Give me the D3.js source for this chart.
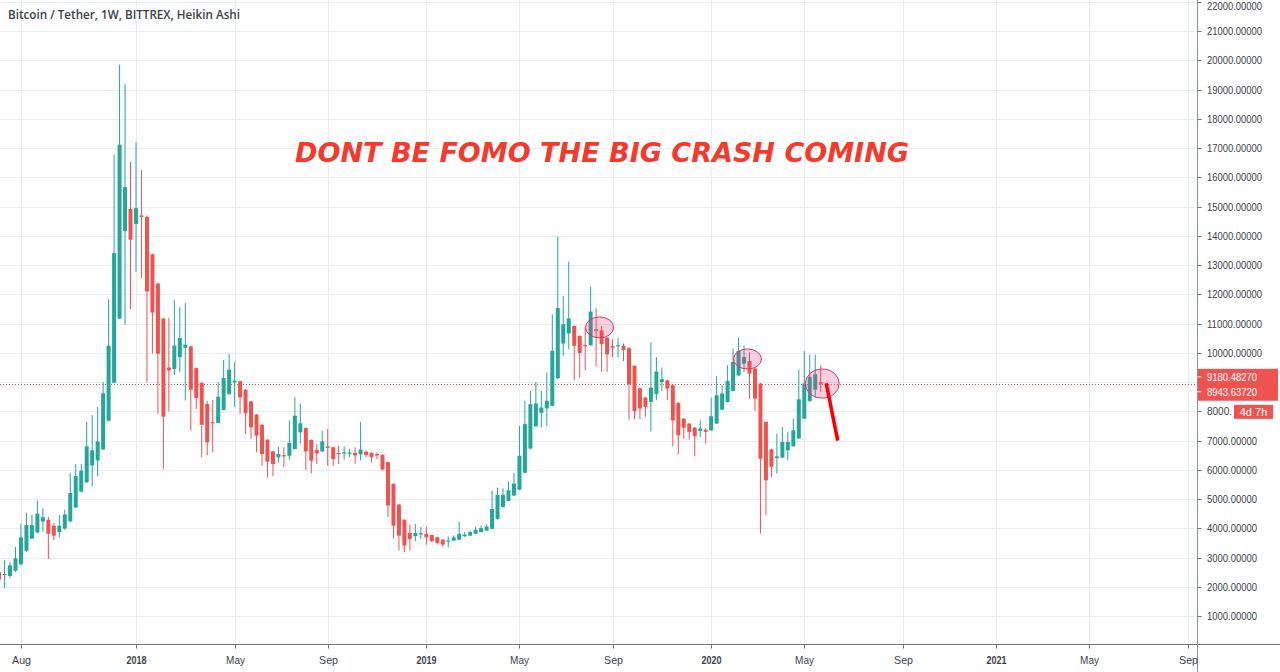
<!DOCTYPE html>
<html><head><meta charset="utf-8">
<script src="https://cdn.jsdelivr.net/npm/d3@7"></script>
<style>
html,body{margin:0;padding:0;background:#fff;}
svg{display:block;}
</style></head>
<body>
<svg id="c" width="1280" height="672"></svg>
<script>
// ---- Data: weekly Heikin Ashi candles, first week Jul 10 2017, last week May 25 2020 ----
const firstWeek = "2017-07-10";
const lastWeek  = "2020-05-25";
const haOpen = [
 2500,2400,2370,2550,2770,3230,3650,3860,4230,4290,4090,3870,3990,4240,4710,5250,5570,6150,6320,6700,7680,8980,11170,14170,14920,
 14410,14700,14650,13370,12370,11170,9500,9450,9850,10170,10220,9480,8970,8250,7630,7600,8050,8590,8990,9030,8740,8340,7890,7540,7030,6630,6430,6500,6480,6710,7280,7430,7020,6680,6630,6800,6770,6580,6555,6560,6580,6530,6620,6580,6540,6510,6260,5520,4810,4290,3840,3730,3790,
 3810,3770,3690,3610,3550,3580,3610,3730,3750,3810,3870,3920,3980,4320,4730,4935,5120,5320,5900,6730,7490,7950,8100,8190,9130,10320,10660,10920,10580,10270,10260,10810,10770,10520,10230,10220,10240,10160,9550,8790,8470,8320,8590,9000,9060,8890,8290,7750,7580,7440,7330,7370,
 7350,7580,8060,8320,8700,9230,9630,9720,9460,8950,7640,6700,6400,6420,6670,6805,7070,7750,8350,8740,9000];
const haHigh = [
 2600,2900,2850,3360,4170,4530,4470,4950,4690,4390,4170,4450,4640,5900,6200,6200,7640,7870,8150,9000,11830,16780,19860,19200,16530,
 17200,16250,14700,13390,12400,11200,11200,11800,11560,11700,10250,9500,9000,8365,8390,8990,9756,9960,9680,9050,8760,8360,7900,7560,7050,6650,6790,6770,7680,8480,8270,7450,7040,6880,7340,7400,6790,6830,6795,6715,6770,7630,6660,6600,6600,6530,6280,5540,4830,4310,4130,4150,4040,
 4060,3790,3710,3630,3720,3760,4240,3870,3920,4060,4090,4130,5290,5390,5370,5600,5900,7500,8360,8700,9000,8700,9330,11320,13970,11950,13120,10940,10600,10890,12270,11530,10920,10540,10470,10520,10320,10200,9570,8810,8490,10350,9860,9500,9080,8910,8310,7770,7600,7460,7690,7420,
 8470,9200,8890,9575,10145,10520,10260,10020,9480,8970,7660,6720,7238,7466,7295,7751,9427,10065,9940,9940,9575];
const haLow = [
 2100,1950,2300,2500,2730,3200,3620,3840,3880,2950,3590,3680,3950,4200,4690,5230,5550,5440,5780,6680,7660,8960,11150,10960,11500,
 12770,12560,9000,9970,7910,6030,8000,9250,9330,8370,7340,8080,6430,6490,6600,7590,8030,8570,8140,7910,7225,7050,6600,6140,5740,5780,6250,6090,6340,6690,6900,5990,5880,6200,6600,6140,6140,6200,6340,6430,6200,6320,6430,6260,6370,5970,4380,3640,3240,3180,3240,3560,3640,
 3440,3520,3440,3375,3350,3560,3600,3700,3730,3800,3860,3910,3970,4300,4710,4920,5100,5300,5880,6700,7460,7440,7500,8170,9100,9900,10120,9060,9150,9400,10240,9530,9350,9350,9840,9840,9720,7710,7730,7730,7810,7310,8380,8700,8380,6800,6530,7070,7030,6460,7120,6900,
 7330,7560,8040,8300,8680,9210,9350,8435,8013,3818,4445,5756,5870,6400,6326,6790,7050,7730,8330,8470,8663];
const haClose = [
 2250,2440,2730,2970,3690,4110,4110,4500,4380,3810,3750,4090,4470,5210,5790,5970,6800,6670,6970,8620,10240,13410,17120,15670,13870,
 14950,14650,12100,11380,9970,7820,9400,10250,10510,10280,8740,8460,7540,6940,7590,8500,9140,9425,9050,8480,7930,7450,7170,6540,6280,6200,6540,6480,6920,7850,7590,6630,6310,6560,6970,6750,6370,6540,6600,6590,6490,6690,6510,6430,6490,6010,4780,4090,3750,3410,3640,3840,3830,
 3690,3560,3500,3440,3580,3690,3810,3790,3870,3950,4010,4060,4660,5140,5140,5300,5530,6480,7560,8240,8270,8130,8360,10070,11530,10980,11180,10240,9990,10230,11410,10750,10300,9950,10180,10260,10100,8930,8010,8100,8150,8810,9360,9100,8780,7690,7180,7440,7300,7150,7410,7300,
 7830,8550,8610,9040,9690,10065,9860,9290,8435,6380,5640,6100,6460,6950,6950,7352,8410,8950,9180,9270,8943.6372];

// axis tick labels
const priceTicks = [1000,2000,3000,4000,5000,6000,7000,8000,10000,11000,12000,13000,14000,15000,16000,17000,18000,19000,20000,21000,22000];
const timeTickDates  = ["2017-08-07","2018-01-01","2018-05-07","2018-09-03","2019-01-07","2019-05-06","2019-09-02","2020-01-06","2020-05-04","2020-09-07","2021-01-04","2021-05-03","2021-09-06"];
const timeTickLabels = ["Aug","2018","May","Sep","2019","May","Sep","2020","May","Sep","2021","May","Sep"];
const lastPrice = 9180.48270, lastHaClose = 8943.63720;
const countdownText = "4d 7h";
const titleText = "Bitcoin / Tether, 1W, BITTREX, Heikin Ashi";
const noteText = "DONT BE FOMO THE BIG CRASH COMING";
// annotation circles (week, price)
const markWeeks  = ["2019-08-19","2020-02-24","2020-05-25"];
const markPrices = [10870,9790,8950];
const arrowWeek = "2020-05-25", arrowFromPrice = 8960, arrowToPrice = 7000;

const parse = d3.utcParse("%Y-%m-%d");
const weeks = d3.utcMonday.range(parse(firstWeek), d3.utcDay.offset(parse(lastWeek),1));
const candles = weeks.map((d,i)=>({date:d,o:haOpen[i],h:haHigh[i],l:haLow[i],c:haClose[i]})).filter(d=>d.o!=null);

const W=1280,H=672, axisX=1197.5, axisY=644.5;
const x = d3.scaleUtc().domain([parse("2018-01-01"), parse("2021-01-04")]).range([136, 996]);
const y = d3.scaleLinear().domain([1000,22000]).range([616,2]);

const svg = d3.select("#c");
const up="#26a69a", dn="#ef5350", grid="#e6edf3";

// grid
const g = svg.append("g");
const allPriceGrid = d3.range(1000,22001,1000);
g.selectAll("line.h").data(allPriceGrid).join("line")
 .attr("x1",0).attr("x2",axisX).attr("y1",d=>Math.round(y(d))+0.5).attr("y2",d=>Math.round(y(d))+0.5)
 .attr("stroke",grid).attr("stroke-width",1);
g.selectAll("line.v").data(timeTickDates).join("line")
 .attr("x1",d=>Math.round(x(parse(d)))+0.5).attr("x2",d=>Math.round(x(parse(d)))+0.5).attr("y1",0).attr("y2",axisY)
 .attr("stroke",grid).attr("stroke-width",1);

// last price dotted line
svg.append("line").attr("x1",0).attr("x2",axisX).attr("y1",Math.round(y(lastHaClose))+0.5).attr("y2",Math.round(y(lastHaClose))+0.5)
 .attr("stroke",dn).attr("stroke-dasharray","1,2").attr("stroke-width",1);

// candles
const cg = svg.append("g");
const cs = cg.selectAll("g").data(candles).join("g");
cs.append("line")
 .attr("x1",d=>x(d.date)).attr("x2",d=>x(d.date))
 .attr("y1",d=>y(d.h)).attr("y2",d=>y(d.l))
 .attr("stroke",d=>d.c>=d.o?up:dn).attr("stroke-width",1);
cs.append("rect")
 .attr("x",d=>x(d.date)-2).attr("width",4)
 .attr("y",d=>y(Math.max(d.o,d.c)))
 .attr("height",d=>Math.max(1.2,Math.abs(y(d.o)-y(d.c))))
 .attr("fill",d=>d.c>=d.o?up:dn);

// annotation ellipses
const ellR = [[14,10.5,-2],[14,10,-2],[17,14.5,1.5]];
svg.selectAll("ellipse").data(markWeeks).join("ellipse")
 .attr("cx",(d,i)=>x(parse(d))+ellR[i][2]).attr("cy",(d,i)=>y(markPrices[i]))
 .attr("rx",(d,i)=>ellR[i][0]).attr("ry",(d,i)=>ellR[i][1])
 .attr("fill","rgba(236,64,122,0.25)").attr("stroke","#e0306a").attr("stroke-width",1);

// red arrow line
svg.append("line")
 .attr("x1",x(parse(arrowWeek))+5.5).attr("y1",y(arrowFromPrice))
 .attr("x2",x(parse(arrowWeek))+17).attr("y2",y(arrowToPrice))
 .attr("stroke","#ff0000").attr("stroke-width",3.6);

// big note text
svg.append("text").attr("x",602).attr("y",162).attr("text-anchor","middle")
 .attr("font-family","DejaVu Sans").attr("font-weight","bold").attr("font-style","italic")
 .attr("font-size",26.5).attr("fill","#f23b2d")
 .attr("textLength",614).attr("lengthAdjust","spacingAndGlyphs")
 .text(noteText);

// title
svg.append("text").attr("x",8).attr("y",18.5)
 .attr("font-family","Open Sans").attr("font-weight",600).attr("font-size",12.5).attr("fill","#3b3f47")
 .attr("textLength",232).attr("lengthAdjust","spacingAndGlyphs")
 .text(titleText);

// axes lines
svg.append("line").attr("x1",0).attr("x2",W).attr("y1",axisY).attr("y2",axisY).attr("stroke","#6f7379").attr("stroke-width",1);
svg.append("line").attr("x1",axisX).attr("x2",axisX).attr("y1",0).attr("y2",H).attr("stroke","#8a8e94").attr("stroke-width",1);

// bottom axis ticks + labels
const bt = svg.append("g");
timeTickDates.forEach((d,i)=>{
  const xx = Math.round(x(parse(d)))+0.5;
  bt.append("line").attr("x1",xx).attr("x2",xx).attr("y1",axisY).attr("y2",axisY+4).attr("stroke","#6f7379");
  const isYear = /^\d{4}$/.test(timeTickLabels[i]);
  bt.append("text").attr("x",xx).attr("y",664).attr("text-anchor","middle")
    .attr("font-family","Liberation Sans").attr("font-size",11).attr("fill","#3b3f47")
    .attr("font-weight",isYear?"bold":"normal")
    .attr("textLength",isYear?20:(timeTickLabels[i].length*6.3)).attr("lengthAdjust","spacingAndGlyphs")
    .text(timeTickLabels[i]);
});

// right axis ticks + labels (the 8000 label is partly hidden behind the countdown badge)
const fmt = d3.format(".5f");
const rt = svg.append("g");
priceTicks.forEach(v=>{
  const yy = Math.round(y(v))+0.5;
  rt.append("line").attr("x1",axisX).attr("x2",axisX+4).attr("y1",yy).attr("y2",yy).attr("stroke","#6f7379");
  const s = v===8000 ? fmt(v).slice(0,5) : fmt(v);
  rt.append("text").attr("x",1207).attr("y",v===22000?yy+3.5:yy).attr("dy","0.35em")
    .attr("font-family","Liberation Sans").attr("font-size",v===22000?10.5:11).attr("fill","#3b3f47")
    .attr("textLength",s.length*5).attr("lengthAdjust","spacingAndGlyphs")
    .text(s);
});

// last price labels
const lp = svg.append("g");
lp.append("rect").attr("x",axisX+0.5).attr("y",y(lastPrice)-8).attr("width",80).attr("height",(y(lastHaClose)+9)-(y(lastPrice)-8)+8).attr("fill",dn);
[[lastPrice,y(lastPrice)],[lastHaClose,y(lastHaClose)+8]].forEach(([v,yy])=>{
  lp.append("line").attr("x1",axisX).attr("x2",axisX+4).attr("y1",yy).attr("y2",yy).attr("stroke","#fff");
  const s=fmt(v);
  lp.append("text").attr("x",1207).attr("y",yy).attr("dy","0.35em")
    .attr("font-family","Liberation Sans").attr("font-size",11).attr("fill","#fff")
    .attr("textLength",s.length*5).attr("lengthAdjust","spacingAndGlyphs").text(s);
});
lp.append("rect").attr("x",1234).attr("y",y(8000)-6.5).attr("width",39).attr("height",14).attr("fill",dn);
lp.append("text").attr("x",1253.5).attr("y",y(8000)+0.5).attr("dy","0.35em").attr("text-anchor","middle")
  .attr("font-family","Liberation Sans").attr("font-size",11).attr("fill","#fff").text(countdownText);
</script>
</body></html>
